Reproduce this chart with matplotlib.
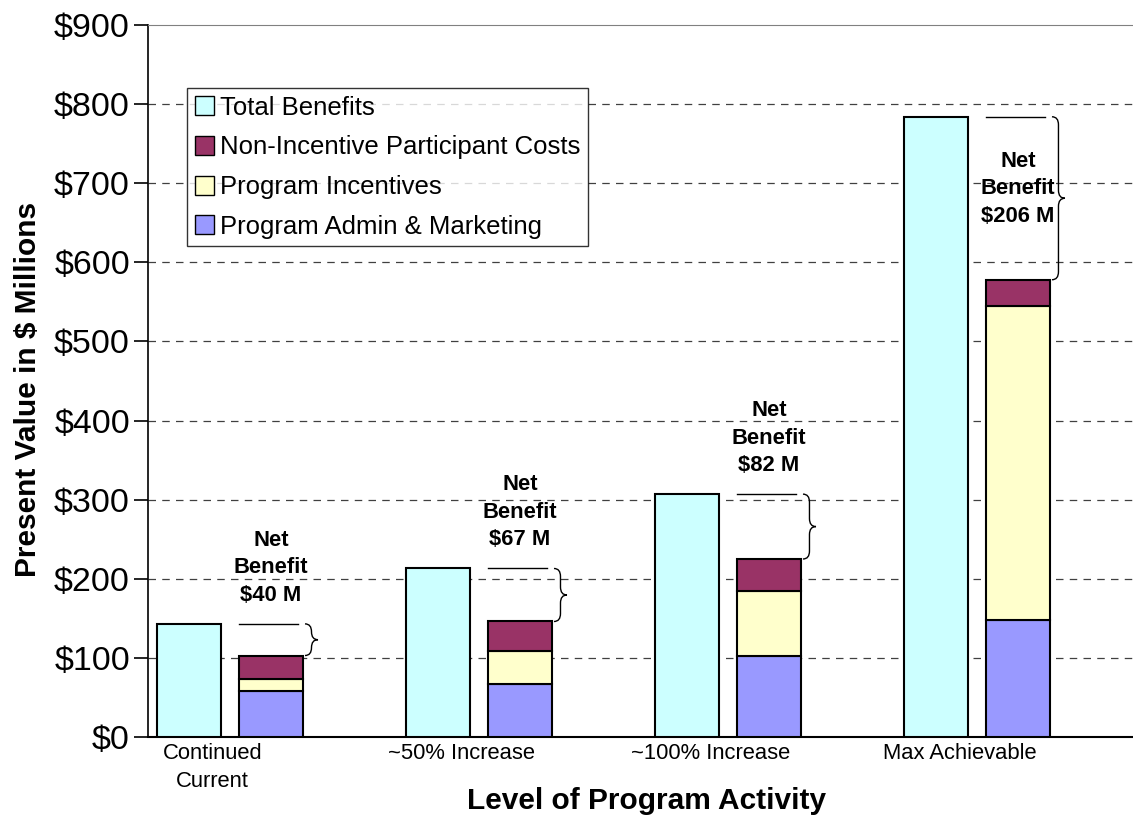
import matplotlib.pyplot as plt
from matplotlib.path import Path
from matplotlib.patches import PathPatch, Patch

plt.rcParams['font.family'] = ['Liberation Sans', 'DejaVu Sans']

# ---- data ($ millions, present value) ----
categories = ["Continued\nCurrent", "~50% Increase", "~100% Increase", "Max Achievable"]
total_benefits = [143, 213, 307, 784]
admin_marketing = [58, 67, 102, 148]
incentives = [15, 42, 82, 397]
non_incentive = [30, 37, 41, 33]

c_total = "#CCFFFF"
c_nonincent = "#993366"
c_incent = "#FFFFCC"
c_admin = "#9999FF"

fig = plt.figure(figsize=(11.33, 8.17), dpi=100)
ax = fig.add_axes([148 / 1133, 1 - 737 / 817, (1133 - 148) / 1133, (737 - 25) / 817])

x = list(range(len(categories)))
w = 0.257
off = 0.165
xb = [i - off for i in x]
xc = [i + off for i in x]

ax.bar(xb, total_benefits, width=w, color=c_total, edgecolor="black", linewidth=1.5, zorder=3)
ax.bar(xc, admin_marketing, width=w, color=c_admin, edgecolor="black", linewidth=1.5, zorder=3)
bottom2 = [a + b for a, b in zip(admin_marketing, incentives)]
ax.bar(xc, incentives, width=w, bottom=admin_marketing, color=c_incent,
       edgecolor="black", linewidth=1.5, zorder=3)
ax.bar(xc, non_incentive, width=w, bottom=bottom2, color=c_nonincent,
       edgecolor="black", linewidth=1.5, zorder=3)
costs = [b + n for b, n in zip(bottom2, non_incentive)]


def brace(ax, xpix0, y_top, y_bot, width_px=13):
    # curly brace: x in pixels, y from data values
    px = ax.transData.transform
    inv = ax.transData.inverted()
    x0 = xpix0
    xm = x0 + width_px * 0.5
    xt = x0 + width_px
    _, yt = px((0, y_top))
    _, yb = px((0, y_bot))
    ym = (yt + yb) / 2
    r = min(8, (yt - yb) / 4)
    verts = [(x0, yt), (xm, yt), (xm, yt - r),
             (xm, ym + r), (xm, ym), (xt, ym),
             (xm, ym), (xm, ym - r),
             (xm, yb + r), (xm, yb), (x0, yb)]
    codes = [Path.MOVETO, Path.CURVE3, Path.CURVE3,
             Path.LINETO, Path.CURVE3, Path.CURVE3,
             Path.CURVE3, Path.CURVE3,
             Path.LINETO, Path.CURVE3, Path.CURVE3]
    verts = [inv.transform(v) for v in verts]
    ax.add_patch(PathPatch(Path(verts, codes), facecolor="none", edgecolor="black",
                           linewidth=1.0, zorder=4))


ax.set_xlim(-0.329, 3.627)
ax.set_ylim(0, 900)
fig.canvas.draw()

for i in x:
    net = total_benefits[i] - costs[i]
    ax.plot([xc[i] - w / 2, xc[i] + w / 2 - 0.02], [total_benefits[i]] * 2,
            color="black", linewidth=1.0, zorder=4)
    xr, _ = ax.transData.transform((xc[i] + w / 2, 0))
    brace(ax, xr + 2, total_benefits[i], costs[i])
    label = f"Net\nBenefit\n${net} M"
    if net > 150:
        ax.text(xc[i], (total_benefits[i] + costs[i]) / 2 + 12, label, ha="center",
                va="center", fontsize=15.8, fontweight="bold", linespacing=1.4, zorder=5)
    else:
        ax.text(xc[i], total_benefits[i] + 23, label, ha="center", va="bottom",
                fontsize=15.8, fontweight="bold", linespacing=1.4, zorder=5)

ax.set_yticks(range(0, 901, 100))
ax.set_yticklabels([f"${v}" for v in range(0, 901, 100)], fontsize=24.5)
ax.set_xticks([i - 0.07 for i in x])
ax.set_xticklabels(categories, fontsize=15.8, linespacing=1.45)
ax.tick_params(axis="x", length=0, pad=4)
ax.tick_params(axis="y", length=10, width=1.2, pad=3)
for v in range(100, 900, 100):
    ax.axhline(v, color="#404040", linestyle=(0, (6, 5)), linewidth=0.9, zorder=1)

ax.spines["right"].set_visible(False)
ax.spines["top"].set_color("#808080")
ax.spines["left"].set_linewidth(1.2)
ax.spines["bottom"].set_linewidth(1.5)

ax.set_ylabel("Present Value in $ Millions", fontsize=21.5, fontweight="bold", va="center")
ax.yaxis.set_label_coords((28 - 148) / 985, (737 - 389) / 712)
fig.text(647 / 1133, 1 - 801 / 817, "Level of Program Activity", fontsize=21.5,
         fontweight="bold", ha="center", va="center")

handles = [Patch(facecolor=c_total, edgecolor="black"),
           Patch(facecolor=c_nonincent, edgecolor="black"),
           Patch(facecolor=c_incent, edgecolor="black"),
           Patch(facecolor=c_admin, edgecolor="black")]
labels = ["Total Benefits", "Non-Incentive Participant Costs", "Program Incentives",
          "Program Admin & Marketing"]
leg = ax.legend(handles, labels, loc="upper left", bbox_to_anchor=(39 / 985, 1 - 63 / 712),
                fontsize=18.5, frameon=True, fancybox=False, edgecolor="black",
                handlelength=0.75, handleheight=0.75, handletextpad=0.25, labelspacing=0.61,
                borderpad=0.3, borderaxespad=0)
leg.get_frame().set_linewidth(1.0)
leg.set_zorder(6)

fig.savefig("out.png", dpi=100)
